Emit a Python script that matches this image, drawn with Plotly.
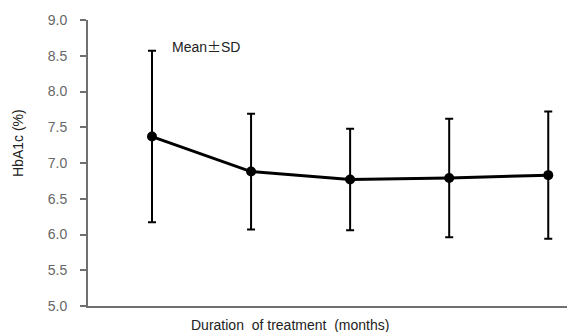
import plotly.graph_objects as go

months = [0, 1, 2, 3, 4]
hba1c_mean = [7.37, 6.88, 6.77, 6.79, 6.83]
hba1c_sd = [1.20, 0.81, 0.71, 0.83, 0.89]
y_ticks = [5.0, 5.5, 6.0, 6.5, 7.0, 7.5, 8.0, 8.5, 9.0]

# page body has an 8px margin; size the figure so the plot area lands where the reference has it
OFF = 8
W, H = 575 - OFF, 332 - OFF
L, R, T, B = 88, 575, 20, 306  # plot area in page pixels

fig = go.Figure()
fig.add_trace(go.Scatter(
    x=months, y=hba1c_mean, mode="lines+markers",
    line=dict(color="black", width=3),
    marker=dict(color="black", size=10),
    error_y=dict(type="data", array=hba1c_sd, visible=True,
                 color="black", thickness=2, width=4),
    showlegend=False,
))

fig.update_layout(
    width=W, height=H,
    margin=dict(l=L - OFF, r=575 - R, t=T - OFF, b=(332 - OFF) - (B - OFF)),
    plot_bgcolor="white", paper_bgcolor="white",
    font=dict(family="Liberation Sans, Arial, sans-serif", size=14, color="#595959"),
    xaxis=dict(range=[-0.646, 4.27], showticklabels=False, ticks="",
               showgrid=False, zeroline=False, showline=True,
               linecolor="#707070", linewidth=2),
    yaxis=dict(range=[5.0, 9.0], tickvals=y_ticks,
               ticktext=[f"{v:.1f}" for v in y_ticks],
               ticks="outside", ticklen=6, tickcolor="#707070", tickwidth=1.5,
               ticklabelstandoff=10,
               showgrid=False, zeroline=False, showline=True,
               linecolor="#707070", linewidth=2,
               tickfont=dict(color="#666666", size=14)),
)

def px_ann(text, x, y, angle=0, xanchor="center", yanchor="middle"):
    fig.add_annotation(text=text, x=(x - L) / (R - L), y=1 - (y - T) / (B - T),
                       xref="paper", yref="paper", showarrow=False, textangle=angle,
                       xanchor=xanchor, yanchor=yanchor,
                       font=dict(color="#222222", size=14))

px_ann("Mean<span style='font-family:Noto Sans CJK JP'>±</span>SD", 170, 46, xanchor="left")
px_ann("HbA1c (%)", 18, 143, angle=-90)
px_ann("Duration  of treatment  (months)", 290, 325)

fig.write_html("out.html")
